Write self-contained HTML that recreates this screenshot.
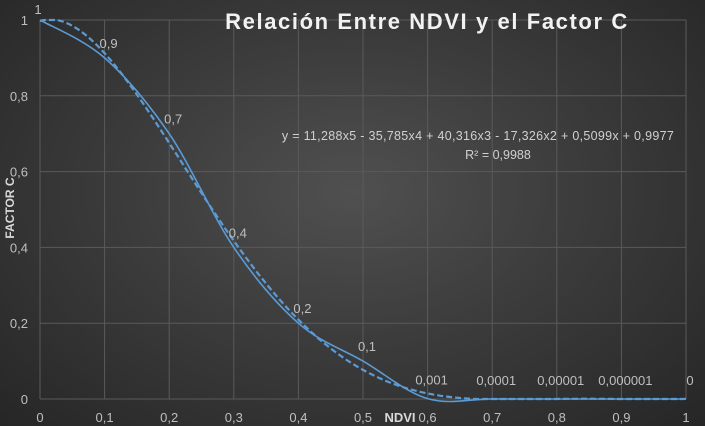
<!DOCTYPE html>
<html><head><meta charset="utf-8"><style>
html,body{margin:0;padding:0;}
body{width:705px;height:426px;overflow:hidden;font-family:"Liberation Sans",sans-serif;}
#bg{position:absolute;left:0;top:0;width:705px;height:426px;background:radial-gradient(ellipse at 50% 45%,#505050 0%,#3c3c3c 45%,#262626 100%);}
</style></head><body>
<div id="bg"></div>
<svg id="chart" width="705" height="426" style="position:absolute;left:0;top:0"></svg>
<script>
const xValues=[0,0.1,0.2,0.3,0.4,0.5,0.6,0.7,0.8,0.9,1];
const yValues=[1,0.9,0.7,0.4,0.2,0.1,0.001,0.0001,0.00001,0.000001,0];
const pointLabels=["1","0,9","0,7","0,4","0,2","0,1","0,001","0,0001","0,00001","0,000001","0"];
const trendCoef=[0.9977,0.5099,-17.326,40.316,-35.785,11.288];
const xTicks=[0,0.1,0.2,0.3,0.4,0.5,0.6,0.7,0.8,0.9,1];
const xTickLabels=["0","0,1","0,2","0,3","0,4","0,5","0,6","0,7","0,8","0,9","1"];
const yTicks=[0,0.2,0.4,0.6,0.8,1];
const yTickLabels=["0","0,2","0,4","0,6","0,8","1"];

const NS="http://www.w3.org/2000/svg";
const svg=document.getElementById('chart');
const X0=40,X1=686,Y0=399,Y1=20;
const sx=v=>X0+(X1-X0)*v;
const sy=v=>Y0-(Y0-Y1)*v;
function mk(t,a){const e=document.createElementNS(NS,t);for(const k in a)e.setAttribute(k,a[k]);svg.appendChild(e);return e;}
xTicks.forEach((t,i)=>{
  const g=mk('line',{x1:sx(t),x2:sx(t),y1:Y1,y2:Y0,stroke:'#5a5a5a','stroke-width':1});
  
  
  const l=mk('text',{x:sx(t),y:422,'text-anchor':'middle',fill:'#bfbfbf','font-size':13});
  l.textContent=xTickLabels[i];
  
  
});
yTicks.forEach((t,i)=>{
  const g=mk('line',{x1:X0,x2:X1,y1:sy(t),y2:sy(t),stroke:'#5a5a5a','stroke-width':1});
  
  
  const l=mk('text',{x:28,y:sy(t)+5,'text-anchor':'end',fill:'#bfbfbf','font-size':13});
  l.textContent=yTickLabels[i];
  
  
});
let d='';
for(let i=0;i<=200;i++){const x=i/200;let y=0;trendCoef.forEach((c,k)=>y+=c*Math.pow(x,k));y=Math.max(0,Math.min(1,y));d+=(i?'L':'M')+sx(x).toFixed(1)+','+sy(y).toFixed(1);}
const tr=mk('path',{d:d,fill:'none',stroke:'#5b9bd5','stroke-width':2.2,'stroke-dasharray':'6,3'});


const P=xValues.map((x,i)=>[sx(x),sy(yValues[i])]);
let s='M'+P[0][0]+','+P[0][1];
for(let i=0;i<P.length-1;i++){const p0=P[i-1]||P[i],p1=P[i],p2=P[i+1],p3=P[i+2]||P[i+1];
 const c1=[p1[0]+(p2[0]-p0[0])/6,p1[1]+(p2[1]-p0[1])/6],c2=[p2[0]-(p3[0]-p1[0])/6,p2[1]-(p3[1]-p1[1])/6];
 s+=`C${c1[0]},${c1[1]} ${c2[0]},${c2[1]} ${p2[0]},${p2[1]}`;}
const ln=mk('path',{d:s,fill:'none',stroke:'#5b9bd5','stroke-width':1.6});


P.forEach((p,i)=>{
  const t=mk('text',{x:p[0]+(i==0?-2:4),y:p[1]-10+(i>=6?-4:0)+(i==0?4:0),'text-anchor':'middle',fill:'#bfbfbf','font-size':13});
  t.textContent=pointLabels[i];
  
  
});
function txt(str,a,name){const t=mk('text',a);t.textContent=str;return t;}
txt('Relación Entre NDVI y el Factor C',{x:427,y:29,'text-anchor':'middle',fill:'#f2f2f2','font-size':22,'font-weight':'bold','letter-spacing':'1.6'},'chart-title');
txt('y = 11,288x5 - 35,785x4 + 40,316x3 - 17,326x2 + 0,5099x + 0,9977',{x:478,y:140,'text-anchor':'middle',fill:'#d0d0d0','font-size':12.5,'letter-spacing':'0.3'},'trendline-equation');
txt('R² = 0,9988',{x:498,y:159,'text-anchor':'middle',fill:'#d0d0d0','font-size':12.5},'r-squared');
txt('NDVI',{x:400,y:422,'text-anchor':'middle',fill:'#d9d9d9','font-size':13,'font-weight':'bold'},'x-axis-title');
txt('FACTOR C',{x:14,y:208,'text-anchor':'middle',fill:'#d9d9d9','font-size':12,'font-weight':'bold',transform:'rotate(-90 14 208)'},'y-axis-title');
</script>
</body></html>
